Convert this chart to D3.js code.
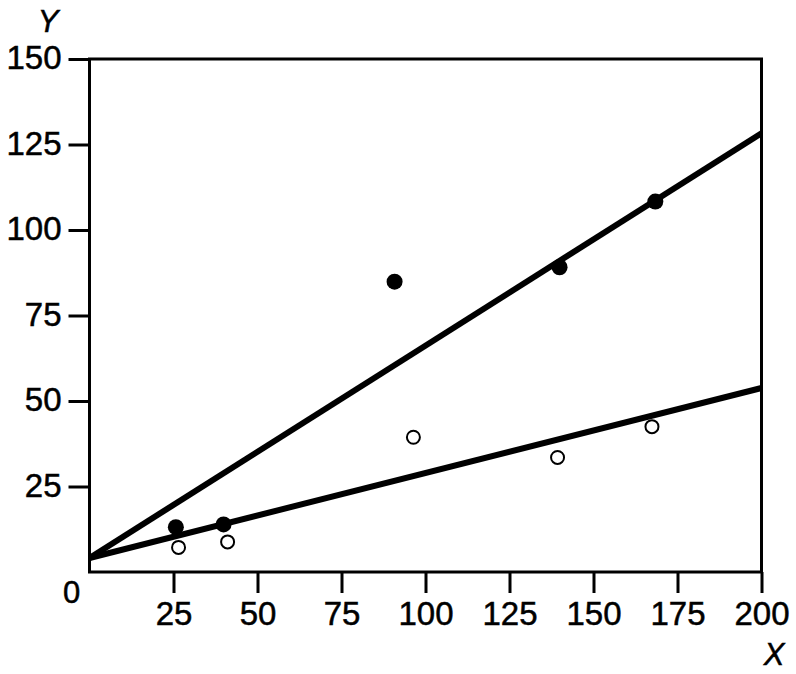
<!DOCTYPE html>
<html>
<head>
<meta charset="utf-8">
<script src="https://cdn.jsdelivr.net/npm/d3@7"></script>
<style>
html,body{margin:0;padding:0;background:#fff;}
svg{display:block;}
text{font-family:"Liberation Sans",Arial,sans-serif;fill:#000;stroke:#000;stroke-width:0.5;}
</style>
</head>
<body>
<svg id="chart" width="796" height="674"></svg>
<script>
// Data
const filledX = [25.7, 39.9, 90.8, 139.9, 168.4];
const filledY = [13.1, 13.9, 84.9, 89.1, 108.3];
const openX = [26.5, 41.1, 96.4, 139.3, 167.4];
const openY = [7.2, 8.8, 39.4, 33.5, 42.5];
// regression lines: [x, y] endpoints
const upperLineX = [0, 200];
const upperLineY = [4.1, 128.3];
const lowerLineX = [0, 200];
const lowerLineY = [4.1, 53.8];
const xTicks = [25, 50, 75, 100, 125, 150, 175, 200];
const yTicks = [25, 50, 75, 100, 125, 150];

const svg = d3.select("#chart");
const x = d3.scaleLinear().domain([0, 200]).range([89.5, 761.5]);
const y = d3.scaleLinear().domain([0, 150]).range([572, 59]);

// frame
svg.append("rect")
  .attr("x", x(0)).attr("y", y(150))
  .attr("width", x(200) - x(0)).attr("height", y(0) - y(150))
  .attr("fill", "none").attr("stroke", "#000").attr("stroke-width", 3);

// x axis
const xAxis = d3.axisBottom(x).tickValues(xTicks).tickSize(21).tickPadding(9).tickSizeOuter(0);
const gx = svg.append("g").attr("transform", `translate(0,${y(0)})`).call(xAxis);
gx.select(".domain").remove();
gx.selectAll(".tick line").attr("stroke", "#000").attr("stroke-width", 3);
gx.selectAll(".tick text").attr("font-size", 33).attr("font-family", "Liberation Sans, Arial, sans-serif").attr("fill", "#000");

// y axis
const yAxis = d3.axisLeft(y).tickValues(yTicks).tickSize(21).tickPadding(7).tickSizeOuter(0);
const gy = svg.append("g").attr("transform", `translate(${x(0)},0)`).call(yAxis);
gy.select(".domain").remove();
gy.selectAll(".tick line").attr("stroke", "#000").attr("stroke-width", 3);
gy.selectAll(".tick text").attr("font-size", 33).attr("font-family", "Liberation Sans, Arial, sans-serif").attr("fill", "#000").attr("dy", "0.30em");

// zero label
svg.append("text").attr("x", x(0) - 18).attr("y", y(0) + 31)
  .attr("text-anchor", "middle").attr("font-size", 31).text("0");

// axis titles
svg.append("text").attr("x", 774).attr("y", 665).attr("text-anchor", "middle")
  .attr("font-size", 31).attr("font-style", "italic").text("X");
svg.append("text").attr("x", 48).attr("y", 32).attr("text-anchor", "middle")
  .attr("font-size", 31).attr("font-style", "italic").text("Y");

// regression lines
const line = d3.line().x(d => x(d[0])).y(d => y(d[1]));
svg.append("path").datum(d3.zip(upperLineX, upperLineY)).attr("d", line)
  .attr("stroke", "#000").attr("stroke-width", 6).attr("fill", "none");
svg.append("path").datum(d3.zip(lowerLineX, lowerLineY)).attr("d", line)
  .attr("stroke", "#000").attr("stroke-width", 6).attr("fill", "none");

// points
svg.append("g").selectAll("circle").data(d3.zip(filledX, filledY)).join("circle")
  .attr("cx", d => x(d[0])).attr("cy", d => y(d[1])).attr("r", 8).attr("fill", "#000");
svg.append("g").selectAll("circle").data(d3.zip(openX, openY)).join("circle")
  .attr("cx", d => x(d[0])).attr("cy", d => y(d[1])).attr("r", 6.5)
  .attr("fill", "#fff").attr("stroke", "#000").attr("stroke-width", 2);
</script>
</body>
</html>
